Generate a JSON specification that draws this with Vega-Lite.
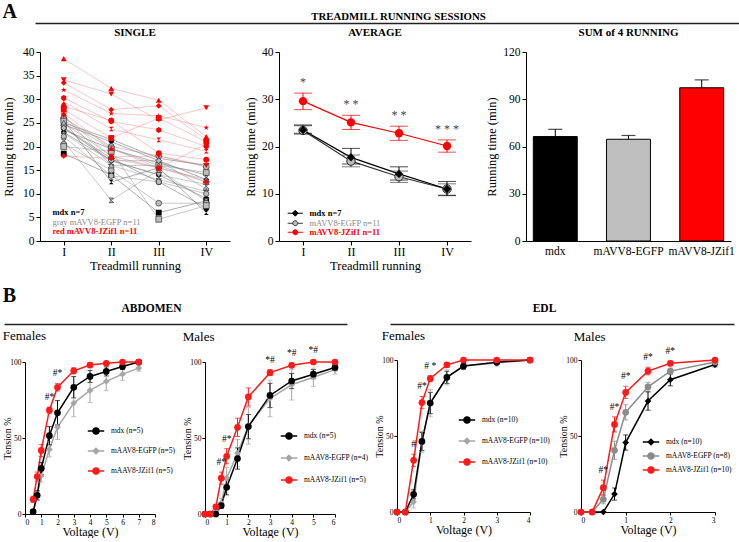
{
  "$schema": "https://vega.github.io/schema/vega-lite/v6.json",
  "padding": {"left": 1, "top": 2, "right": 0, "bottom": 0},
  "config": {
    "view": {"stroke": null},
    "font": "Liberation Serif",
    "axis": {"grid": false, "domainColor": "black", "tickColor": "black", "labelColor": "black", "titleColor": "black", "titleFontWeight": "normal", "labelFont": "Liberation Serif", "titleFont": "Liberation Serif"},
    "title": {"font": "Liberation Serif", "color": "black"},
    "legend": {"labelFont": "Liberation Serif"}
  },
  "datasets": {
    "single": [
      {"mouse": "K1", "group": "mdx", "session": "I", "time": 25.0}, {"mouse": "K1", "group": "mdx", "session": "II", "time": 21.5}, {"mouse": "K1", "group": "mdx", "session": "III", "time": 17.5}, {"mouse": "K1", "group": "mdx", "session": "IV", "time": 16.0},
      {"mouse": "K2", "group": "mdx", "session": "I", "time": 24.6}, {"mouse": "K2", "group": "mdx", "session": "II", "time": 21.0}, {"mouse": "K2", "group": "mdx", "session": "III", "time": 17.0}, {"mouse": "K2", "group": "mdx", "session": "IV", "time": 13.0},
      {"mouse": "K3", "group": "mdx", "session": "I", "time": 23.5}, {"mouse": "K3", "group": "mdx", "session": "II", "time": 19.5}, {"mouse": "K3", "group": "mdx", "session": "III", "time": 16.5}, {"mouse": "K3", "group": "mdx", "session": "IV", "time": 14.0},
      {"mouse": "K4", "group": "mdx", "session": "I", "time": 23.0}, {"mouse": "K4", "group": "mdx", "session": "II", "time": 17.0}, {"mouse": "K4", "group": "mdx", "session": "III", "time": 14.0}, {"mouse": "K4", "group": "mdx", "session": "IV", "time": 9.0},
      {"mouse": "K5", "group": "mdx", "session": "I", "time": 25.5}, {"mouse": "K5", "group": "mdx", "session": "II", "time": 12.5}, {"mouse": "K5", "group": "mdx", "session": "III", "time": 15.5}, {"mouse": "K5", "group": "mdx", "session": "IV", "time": 6.0},
      {"mouse": "K6", "group": "mdx", "session": "I", "time": 24.0}, {"mouse": "K6", "group": "mdx", "session": "II", "time": 17.5}, {"mouse": "K6", "group": "mdx", "session": "III", "time": 12.5}, {"mouse": "K6", "group": "mdx", "session": "IV", "time": 7.0},
      {"mouse": "K7", "group": "mdx", "session": "I", "time": 18.5}, {"mouse": "K7", "group": "mdx", "session": "II", "time": 14.0}, {"mouse": "K7", "group": "mdx", "session": "III", "time": 6.0}, {"mouse": "K7", "group": "mdx", "session": "IV", "time": 8.5},
      {"mouse": "G01", "group": "mAVV8-EGFP", "session": "I", "time": 26.0}, {"mouse": "G01", "group": "mAVV8-EGFP", "session": "II", "time": 20.0}, {"mouse": "G01", "group": "mAVV8-EGFP", "session": "III", "time": 18.0}, {"mouse": "G01", "group": "mAVV8-EGFP", "session": "IV", "time": 15.7},
      {"mouse": "G02", "group": "mAVV8-EGFP", "session": "I", "time": 25.5}, {"mouse": "G02", "group": "mAVV8-EGFP", "session": "II", "time": 19.5}, {"mouse": "G02", "group": "mAVV8-EGFP", "session": "III", "time": 16.0}, {"mouse": "G02", "group": "mAVV8-EGFP", "session": "IV", "time": 14.5},
      {"mouse": "G03", "group": "mAVV8-EGFP", "session": "I", "time": 25.0}, {"mouse": "G03", "group": "mAVV8-EGFP", "session": "II", "time": 18.0}, {"mouse": "G03", "group": "mAVV8-EGFP", "session": "III", "time": 15.5}, {"mouse": "G03", "group": "mAVV8-EGFP", "session": "IV", "time": 13.0},
      {"mouse": "G04", "group": "mAVV8-EGFP", "session": "I", "time": 24.0}, {"mouse": "G04", "group": "mAVV8-EGFP", "session": "II", "time": 17.0}, {"mouse": "G04", "group": "mAVV8-EGFP", "session": "III", "time": 14.0}, {"mouse": "G04", "group": "mAVV8-EGFP", "session": "IV", "time": 12.0},
      {"mouse": "G05", "group": "mAVV8-EGFP", "session": "I", "time": 23.9}, {"mouse": "G05", "group": "mAVV8-EGFP", "session": "II", "time": 17.0}, {"mouse": "G05", "group": "mAVV8-EGFP", "session": "III", "time": 17.0}, {"mouse": "G05", "group": "mAVV8-EGFP", "session": "IV", "time": 11.0},
      {"mouse": "G06", "group": "mAVV8-EGFP", "session": "I", "time": 22.8}, {"mouse": "G06", "group": "mAVV8-EGFP", "session": "II", "time": 16.0}, {"mouse": "G06", "group": "mAVV8-EGFP", "session": "III", "time": 13.0}, {"mouse": "G06", "group": "mAVV8-EGFP", "session": "IV", "time": 10.5},
      {"mouse": "G07", "group": "mAVV8-EGFP", "session": "I", "time": 22.1}, {"mouse": "G07", "group": "mAVV8-EGFP", "session": "II", "time": 13.8}, {"mouse": "G07", "group": "mAVV8-EGFP", "session": "III", "time": 12.5}, {"mouse": "G07", "group": "mAVV8-EGFP", "session": "IV", "time": 10.0},
      {"mouse": "G08", "group": "mAVV8-EGFP", "session": "I", "time": 21.1}, {"mouse": "G08", "group": "mAVV8-EGFP", "session": "II", "time": 8.6}, {"mouse": "G08", "group": "mAVV8-EGFP", "session": "III", "time": 15.0}, {"mouse": "G08", "group": "mAVV8-EGFP", "session": "IV", "time": 8.5},
      {"mouse": "G09", "group": "mAVV8-EGFP", "session": "I", "time": 20.5}, {"mouse": "G09", "group": "mAVV8-EGFP", "session": "II", "time": 15.0}, {"mouse": "G09", "group": "mAVV8-EGFP", "session": "III", "time": 8.0}, {"mouse": "G09", "group": "mAVV8-EGFP", "session": "IV", "time": 8.0},
      {"mouse": "G10", "group": "mAVV8-EGFP", "session": "I", "time": 20.0}, {"mouse": "G10", "group": "mAVV8-EGFP", "session": "II", "time": 19.0}, {"mouse": "G10", "group": "mAVV8-EGFP", "session": "III", "time": 4.6}, {"mouse": "G10", "group": "mAVV8-EGFP", "session": "IV", "time": 7.5},
      {"mouse": "G11", "group": "mAVV8-EGFP", "session": "I", "time": 26.5}, {"mouse": "G11", "group": "mAVV8-EGFP", "session": "II", "time": 16.0}, {"mouse": "G11", "group": "mAVV8-EGFP", "session": "III", "time": 16.0}, {"mouse": "G11", "group": "mAVV8-EGFP", "session": "IV", "time": 12.5},
      {"mouse": "R01", "group": "mAVV8-JZif1", "session": "I", "time": 38.6}, {"mouse": "R01", "group": "mAVV8-JZif1", "session": "II", "time": 32.3}, {"mouse": "R01", "group": "mAVV8-JZif1", "session": "III", "time": 29.8}, {"mouse": "R01", "group": "mAVV8-JZif1", "session": "IV", "time": 22.1},
      {"mouse": "R02", "group": "mAVV8-JZif1", "session": "I", "time": 34.1}, {"mouse": "R02", "group": "mAVV8-JZif1", "session": "II", "time": 31.1}, {"mouse": "R02", "group": "mAVV8-JZif1", "session": "III", "time": 25.6}, {"mouse": "R02", "group": "mAVV8-JZif1", "session": "IV", "time": 28.2},
      {"mouse": "R03", "group": "mAVV8-JZif1", "session": "I", "time": 33.5}, {"mouse": "R03", "group": "mAVV8-JZif1", "session": "II", "time": 27.8}, {"mouse": "R03", "group": "mAVV8-JZif1", "session": "III", "time": 28.6}, {"mouse": "R03", "group": "mAVV8-JZif1", "session": "IV", "time": 21.4},
      {"mouse": "R04", "group": "mAVV8-JZif1", "session": "I", "time": 32.0}, {"mouse": "R04", "group": "mAVV8-JZif1", "session": "II", "time": 27.0}, {"mouse": "R04", "group": "mAVV8-JZif1", "session": "III", "time": 26.5}, {"mouse": "R04", "group": "mAVV8-JZif1", "session": "IV", "time": 24.0},
      {"mouse": "R05", "group": "mAVV8-JZif1", "session": "I", "time": 30.3}, {"mouse": "R05", "group": "mAVV8-JZif1", "session": "II", "time": 25.3}, {"mouse": "R05", "group": "mAVV8-JZif1", "session": "III", "time": 23.5}, {"mouse": "R05", "group": "mAVV8-JZif1", "session": "IV", "time": 20.0},
      {"mouse": "R06", "group": "mAVV8-JZif1", "session": "I", "time": 29.5}, {"mouse": "R06", "group": "mAVV8-JZif1", "session": "II", "time": 23.7}, {"mouse": "R06", "group": "mAVV8-JZif1", "session": "III", "time": 21.4}, {"mouse": "R06", "group": "mAVV8-JZif1", "session": "IV", "time": 19.0},
      {"mouse": "R07", "group": "mAVV8-JZif1", "session": "I", "time": 28.5}, {"mouse": "R07", "group": "mAVV8-JZif1", "session": "II", "time": 25.5}, {"mouse": "R07", "group": "mAVV8-JZif1", "session": "III", "time": 18.6}, {"mouse": "R07", "group": "mAVV8-JZif1", "session": "IV", "time": 17.2},
      {"mouse": "R08", "group": "mAVV8-JZif1", "session": "I", "time": 27.8}, {"mouse": "R08", "group": "mAVV8-JZif1", "session": "II", "time": 21.8}, {"mouse": "R08", "group": "mAVV8-JZif1", "session": "III", "time": 26.0}, {"mouse": "R08", "group": "mAVV8-JZif1", "session": "IV", "time": 21.0},
      {"mouse": "R09", "group": "mAVV8-JZif1", "session": "I", "time": 27.0}, {"mouse": "R09", "group": "mAVV8-JZif1", "session": "II", "time": 19.6}, {"mouse": "R09", "group": "mAVV8-JZif1", "session": "III", "time": 15.4}, {"mouse": "R09", "group": "mAVV8-JZif1", "session": "IV", "time": 20.5},
      {"mouse": "R10", "group": "mAVV8-JZif1", "session": "I", "time": 26.5}, {"mouse": "R10", "group": "mAVV8-JZif1", "session": "II", "time": 17.8}, {"mouse": "R10", "group": "mAVV8-JZif1", "session": "III", "time": 18.0}, {"mouse": "R10", "group": "mAVV8-JZif1", "session": "IV", "time": 16.0},
      {"mouse": "R11", "group": "mAVV8-JZif1", "session": "I", "time": 18.0}, {"mouse": "R11", "group": "mAVV8-JZif1", "session": "II", "time": 17.5}, {"mouse": "R11", "group": "mAVV8-JZif1", "session": "III", "time": 15.5}, {"mouse": "R11", "group": "mAVV8-JZif1", "session": "IV", "time": 12.5}
    ],
    "avg": [
      {"group": "mAVV8-EGFP", "session": "I", "mean": 23.4, "lo": 22.6, "hi": 24.6},
      {"group": "mAVV8-EGFP", "session": "II", "mean": 16.9, "lo": 15.7, "hi": 18.2},
      {"group": "mAVV8-EGFP", "session": "III", "mean": 13.6, "lo": 12.4, "hi": 14.8},
      {"group": "mAVV8-EGFP", "session": "IV", "mean": 11.0, "lo": 9.7, "hi": 12.1},
      {"group": "mdx", "session": "I", "mean": 23.5, "lo": 22.8, "hi": 24.4},
      {"group": "mdx", "session": "II", "mean": 17.7, "lo": 16.3, "hi": 19.6},
      {"group": "mdx", "session": "III", "mean": 14.2, "lo": 12.9, "hi": 15.7},
      {"group": "mdx", "session": "IV", "mean": 11.0, "lo": 9.6, "hi": 12.6},
      {"group": "mAVV8-JZif1", "session": "I", "mean": 29.6, "lo": 27.8, "hi": 31.3, "sig": "*"},
      {"group": "mAVV8-JZif1", "session": "II", "mean": 25.1, "lo": 23.6, "hi": 26.6, "sig": "* *"},
      {"group": "mAVV8-JZif1", "session": "III", "mean": 22.8, "lo": 21.3, "hi": 24.3, "sig": "* *"},
      {"group": "mAVV8-JZif1", "session": "IV", "mean": 20.1, "lo": 18.8, "hi": 21.4, "sig": "* * *"}
    ],
    "sum": [
      {"group": "mdx", "mean": 66.3, "hi": 70.9},
      {"group": "mAVV8-EGFP", "mean": 64.6, "hi": 67.0},
      {"group": "mAVV8-JZif1", "mean": 97.3, "hi": 102.3}
    ],
    "tension": [
      {"panel": "AbdF", "group": "mAAV8-EGFP", "v": 0.5, "mean": 1, "lo": 0, "hi": 2},
      {"panel": "AbdF", "group": "mAAV8-EGFP", "v": 0.75, "mean": 12, "lo": 9, "hi": 15},
      {"panel": "AbdF", "group": "mAAV8-EGFP", "v": 1, "mean": 25, "lo": 21, "hi": 29},
      {"panel": "AbdF", "group": "mAAV8-EGFP", "v": 1.5, "mean": 42.5, "lo": 37.5, "hi": 47.5},
      {"panel": "AbdF", "group": "mAAV8-EGFP", "v": 2, "mean": 57, "lo": 49, "hi": 65},
      {"panel": "AbdF", "group": "mAAV8-EGFP", "v": 3, "mean": 73, "lo": 64, "hi": 82},
      {"panel": "AbdF", "group": "mAAV8-EGFP", "v": 4, "mean": 81.3, "lo": 73.3, "hi": 89.3},
      {"panel": "AbdF", "group": "mAAV8-EGFP", "v": 5, "mean": 87.3, "lo": 81.3, "hi": 93.3},
      {"panel": "AbdF", "group": "mAAV8-EGFP", "v": 6, "mean": 92, "lo": 88, "hi": 96},
      {"panel": "AbdF", "group": "mAAV8-EGFP", "v": 7, "mean": 96, "lo": 94, "hi": 98},
      {"panel": "AbdF", "group": "mdx", "v": 0.5, "mean": 1.5, "lo": 0.5, "hi": 2.5},
      {"panel": "AbdF", "group": "mdx", "v": 0.75, "mean": 12.3, "lo": 9.3, "hi": 15.3},
      {"panel": "AbdF", "group": "mdx", "v": 1, "mean": 30, "lo": 26, "hi": 34},
      {"panel": "AbdF", "group": "mdx", "v": 1.5, "mean": 51.5, "lo": 45.5, "hi": 57.5},
      {"panel": "AbdF", "group": "mdx", "v": 2, "mean": 66.6, "lo": 58.6, "hi": 74.6},
      {"panel": "AbdF", "group": "mdx", "v": 3, "mean": 83.4, "lo": 76.4, "hi": 90.4},
      {"panel": "AbdF", "group": "mdx", "v": 4, "mean": 90.5, "lo": 86.5, "hi": 94.5},
      {"panel": "AbdF", "group": "mdx", "v": 5, "mean": 93.8, "lo": 90.8, "hi": 96.8},
      {"panel": "AbdF", "group": "mdx", "v": 6, "mean": 97, "lo": 95, "hi": 99},
      {"panel": "AbdF", "group": "mdx", "v": 7, "mean": 100, "lo": 99.5, "hi": 100.5},
      {"panel": "AbdF", "group": "mAAV8-JZif1", "v": 0.5, "mean": 9.7, "lo": 7.7, "hi": 11.7},
      {"panel": "AbdF", "group": "mAAV8-JZif1", "v": 0.75, "mean": 24.6, "lo": 21.6, "hi": 27.6},
      {"panel": "AbdF", "group": "mAAV8-JZif1", "v": 1, "mean": 41.8, "lo": 37.8, "hi": 45.8},
      {"panel": "AbdF", "group": "mAAV8-JZif1", "v": 1.5, "mean": 68.3, "lo": 66.3, "hi": 70.3, "sig": "#*"},
      {"panel": "AbdF", "group": "mAAV8-JZif1", "v": 2, "mean": 83.4, "lo": 80.9, "hi": 85.9, "sig": "#*"},
      {"panel": "AbdF", "group": "mAAV8-JZif1", "v": 3, "mean": 94.2, "lo": 92.2, "hi": 96.2},
      {"panel": "AbdF", "group": "mAAV8-JZif1", "v": 4, "mean": 98, "lo": 96.5, "hi": 99.5},
      {"panel": "AbdF", "group": "mAAV8-JZif1", "v": 5, "mean": 99.1, "lo": 98.1, "hi": 100.1},
      {"panel": "AbdF", "group": "mAAV8-JZif1", "v": 6, "mean": 100, "lo": 99, "hi": 101},
      {"panel": "AbdF", "group": "mAAV8-JZif1", "v": 7, "mean": 100, "lo": 99.5, "hi": 100.5},
      {"panel": "AbdM", "group": "mAAV8-EGFP", "v": 0, "mean": 0, "lo": 0, "hi": 0},
      {"panel": "AbdM", "group": "mAAV8-EGFP", "v": 0.25, "mean": 0, "lo": 0, "hi": 0},
      {"panel": "AbdM", "group": "mAAV8-EGFP", "v": 0.5, "mean": 2.5, "lo": 1.5, "hi": 3.5},
      {"panel": "AbdM", "group": "mAAV8-EGFP", "v": 0.75, "mean": 7.3, "lo": 4.3, "hi": 10.3},
      {"panel": "AbdM", "group": "mAAV8-EGFP", "v": 1, "mean": 23.6, "lo": 16.6, "hi": 30.6},
      {"panel": "AbdM", "group": "mAAV8-EGFP", "v": 1.5, "mean": 40, "lo": 31, "hi": 49},
      {"panel": "AbdM", "group": "mAAV8-EGFP", "v": 2, "mean": 58, "lo": 46, "hi": 70},
      {"panel": "AbdM", "group": "mAAV8-EGFP", "v": 3, "mean": 76, "lo": 64, "hi": 88},
      {"panel": "AbdM", "group": "mAAV8-EGFP", "v": 4, "mean": 85, "lo": 75, "hi": 95},
      {"panel": "AbdM", "group": "mAAV8-EGFP", "v": 5, "mean": 90, "lo": 84, "hi": 96},
      {"panel": "AbdM", "group": "mAAV8-EGFP", "v": 6, "mean": 95, "lo": 92, "hi": 98},
      {"panel": "AbdM", "group": "mdx", "v": 0, "mean": 0, "lo": 0, "hi": 0},
      {"panel": "AbdM", "group": "mdx", "v": 0.25, "mean": 0, "lo": 0, "hi": 0},
      {"panel": "AbdM", "group": "mdx", "v": 0.5, "mean": 0, "lo": 0, "hi": 0},
      {"panel": "AbdM", "group": "mdx", "v": 0.75, "mean": 5.6, "lo": 3.6, "hi": 7.6},
      {"panel": "AbdM", "group": "mdx", "v": 1, "mean": 17.6, "lo": 12.6, "hi": 22.6},
      {"panel": "AbdM", "group": "mdx", "v": 1.5, "mean": 36.5, "lo": 29.5, "hi": 43.5},
      {"panel": "AbdM", "group": "mdx", "v": 2, "mean": 57.5, "lo": 49.5, "hi": 65.5},
      {"panel": "AbdM", "group": "mdx", "v": 3, "mean": 78, "lo": 70, "hi": 86},
      {"panel": "AbdM", "group": "mdx", "v": 4, "mean": 87.5, "lo": 82.5, "hi": 92.5},
      {"panel": "AbdM", "group": "mdx", "v": 5, "mean": 92, "lo": 89, "hi": 95},
      {"panel": "AbdM", "group": "mdx", "v": 6, "mean": 96.4, "lo": 94.4, "hi": 98.4},
      {"panel": "AbdM", "group": "mAAV8-JZif1", "v": 0, "mean": 0, "lo": 0, "hi": 0},
      {"panel": "AbdM", "group": "mAAV8-JZif1", "v": 0.25, "mean": 0, "lo": 0, "hi": 0},
      {"panel": "AbdM", "group": "mAAV8-JZif1", "v": 0.5, "mean": 4.7, "lo": 3.7, "hi": 5.7},
      {"panel": "AbdM", "group": "mAAV8-JZif1", "v": 0.75, "mean": 23.6, "lo": 19.6, "hi": 27.6, "sig": "#*"},
      {"panel": "AbdM", "group": "mAAV8-JZif1", "v": 1, "mean": 38, "lo": 33, "hi": 43, "sig": "#*"},
      {"panel": "AbdM", "group": "mAAV8-JZif1", "v": 1.5, "mean": 57, "lo": 51, "hi": 63},
      {"panel": "AbdM", "group": "mAAV8-JZif1", "v": 2, "mean": 77, "lo": 71, "hi": 83},
      {"panel": "AbdM", "group": "mAAV8-JZif1", "v": 3, "mean": 93, "lo": 91, "hi": 95, "sig": "*#"},
      {"panel": "AbdM", "group": "mAAV8-JZif1", "v": 4, "mean": 97.8, "lo": 96.3, "hi": 99.3, "sig": "*#"},
      {"panel": "AbdM", "group": "mAAV8-JZif1", "v": 5, "mean": 100, "lo": 99, "hi": 101, "sig": "*#"},
      {"panel": "AbdM", "group": "mAAV8-JZif1", "v": 6, "mean": 100, "lo": 99.5, "hi": 100.5},
      {"panel": "EdlF", "group": "mAAV8-EGFP", "v": 0, "mean": 0, "lo": 0, "hi": 0},
      {"panel": "EdlF", "group": "mAAV8-EGFP", "v": 0.25, "mean": 0, "lo": 0, "hi": 0},
      {"panel": "EdlF", "group": "mAAV8-EGFP", "v": 0.5, "mean": 6.7, "lo": 2.7, "hi": 10.7},
      {"panel": "EdlF", "group": "mAAV8-EGFP", "v": 0.75, "mean": 46, "lo": 39, "hi": 53},
      {"panel": "EdlF", "group": "mAAV8-EGFP", "v": 1, "mean": 71.7, "lo": 62.7, "hi": 80.7},
      {"panel": "EdlF", "group": "mAAV8-EGFP", "v": 1.5, "mean": 88.6, "lo": 83.6, "hi": 93.6},
      {"panel": "EdlF", "group": "mAAV8-EGFP", "v": 2, "mean": 96, "lo": 94, "hi": 98},
      {"panel": "EdlF", "group": "mAAV8-EGFP", "v": 3, "mean": 98, "lo": 96, "hi": 100},
      {"panel": "EdlF", "group": "mAAV8-EGFP", "v": 4, "mean": 100, "lo": 99.5, "hi": 100.5},
      {"panel": "EdlF", "group": "mdx", "v": 0, "mean": 0, "lo": 0, "hi": 0},
      {"panel": "EdlF", "group": "mdx", "v": 0.25, "mean": 0, "lo": 0, "hi": 0},
      {"panel": "EdlF", "group": "mdx", "v": 0.5, "mean": 11.6, "lo": 8.6, "hi": 14.6},
      {"panel": "EdlF", "group": "mdx", "v": 0.75, "mean": 46.4, "lo": 40.4, "hi": 52.4},
      {"panel": "EdlF", "group": "mdx", "v": 1, "mean": 71.7, "lo": 64.7, "hi": 78.7},
      {"panel": "EdlF", "group": "mdx", "v": 1.5, "mean": 88.6, "lo": 84.6, "hi": 92.6},
      {"panel": "EdlF", "group": "mdx", "v": 2, "mean": 96, "lo": 94, "hi": 98},
      {"panel": "EdlF", "group": "mdx", "v": 3, "mean": 98.5, "lo": 97, "hi": 100},
      {"panel": "EdlF", "group": "mdx", "v": 4, "mean": 100, "lo": 99.5, "hi": 100.5},
      {"panel": "EdlF", "group": "mAAV8-JZif1", "v": 0, "mean": 0, "lo": 0, "hi": 0},
      {"panel": "EdlF", "group": "mAAV8-JZif1", "v": 0.25, "mean": 0, "lo": 0, "hi": 0},
      {"panel": "EdlF", "group": "mAAV8-JZif1", "v": 0.5, "mean": 34, "lo": 30, "hi": 38, "sig": "#"},
      {"panel": "EdlF", "group": "mAAV8-JZif1", "v": 0.75, "mean": 72, "lo": 68, "hi": 76, "sig": "#*"},
      {"panel": "EdlF", "group": "mAAV8-JZif1", "v": 1, "mean": 87.8, "lo": 85.8, "hi": 89.8, "sig": "#   *"},
      {"panel": "EdlF", "group": "mAAV8-JZif1", "v": 1.5, "mean": 96.8, "lo": 95.3, "hi": 98.3},
      {"panel": "EdlF", "group": "mAAV8-JZif1", "v": 2, "mean": 100, "lo": 99.5, "hi": 100.5},
      {"panel": "EdlF", "group": "mAAV8-JZif1", "v": 3, "mean": 100, "lo": 99.5, "hi": 100.5},
      {"panel": "EdlF", "group": "mAAV8-JZif1", "v": 4, "mean": 100, "lo": 99.5, "hi": 100.5},
      {"panel": "EdlM", "group": "mdx", "v": 0, "mean": 0, "lo": 0, "hi": 0},
      {"panel": "EdlM", "group": "mdx", "v": 0.25, "mean": 0, "lo": 0, "hi": 0},
      {"panel": "EdlM", "group": "mdx", "v": 0.5, "mean": 0, "lo": 0, "hi": 0},
      {"panel": "EdlM", "group": "mdx", "v": 0.75, "mean": 11.8, "lo": 7.8, "hi": 15.8},
      {"panel": "EdlM", "group": "mdx", "v": 1, "mean": 45.7, "lo": 40.7, "hi": 50.7},
      {"panel": "EdlM", "group": "mdx", "v": 1.5, "mean": 73, "lo": 67, "hi": 79},
      {"panel": "EdlM", "group": "mdx", "v": 2, "mean": 87, "lo": 83, "hi": 91},
      {"panel": "EdlM", "group": "mdx", "v": 3, "mean": 97, "lo": 95.5, "hi": 98.5},
      {"panel": "EdlM", "group": "mAAV8-EGFP", "v": 0, "mean": 0, "lo": 0, "hi": 0},
      {"panel": "EdlM", "group": "mAAV8-EGFP", "v": 0.25, "mean": 0, "lo": 0, "hi": 0},
      {"panel": "EdlM", "group": "mAAV8-EGFP", "v": 0.5, "mean": 8.4, "lo": 5.4, "hi": 11.4},
      {"panel": "EdlM", "group": "mAAV8-EGFP", "v": 0.75, "mean": 40.6, "lo": 34.6, "hi": 46.6},
      {"panel": "EdlM", "group": "mAAV8-EGFP", "v": 1, "mean": 65.6, "lo": 60.6, "hi": 70.6},
      {"panel": "EdlM", "group": "mAAV8-EGFP", "v": 1.5, "mean": 82.3, "lo": 79.3, "hi": 85.3},
      {"panel": "EdlM", "group": "mAAV8-EGFP", "v": 2, "mean": 92.7, "lo": 90.7, "hi": 94.7},
      {"panel": "EdlM", "group": "mAAV8-EGFP", "v": 3, "mean": 98.7, "lo": 97.7, "hi": 99.7},
      {"panel": "EdlM", "group": "mAAV8-JZif1", "v": 0, "mean": 0, "lo": 0, "hi": 0},
      {"panel": "EdlM", "group": "mAAV8-JZif1", "v": 0.25, "mean": 0, "lo": 0, "hi": 0},
      {"panel": "EdlM", "group": "mAAV8-JZif1", "v": 0.5, "mean": 16, "lo": 11, "hi": 21, "sig": "#*"},
      {"panel": "EdlM", "group": "mAAV8-JZif1", "v": 0.75, "mean": 57.6, "lo": 52.6, "hi": 62.6, "sig": "#*"},
      {"panel": "EdlM", "group": "mAAV8-JZif1", "v": 1, "mean": 78.7, "lo": 74.7, "hi": 82.7, "sig": "#*"},
      {"panel": "EdlM", "group": "mAAV8-JZif1", "v": 1.5, "mean": 92.7, "lo": 90.2, "hi": 95.2, "sig": "#*"},
      {"panel": "EdlM", "group": "mAAV8-JZif1", "v": 2, "mean": 97.8, "lo": 96.3, "hi": 99.3, "sig": "#*"},
      {"panel": "EdlM", "group": "mAAV8-JZif1", "v": 3, "mean": 100, "lo": 99, "hi": 101}
    ]
  },
  "resolve": {"scale": {"color": "independent", "fill": "independent", "stroke": "independent", "shape": "independent"}},
  "spacing": 14,
  "vconcat": [
    {
      "spacing": 0,
      "resolve": {"scale": {"color": "independent", "fill": "independent", "stroke": "independent", "shape": "independent"}},
      "hconcat": [
        {"width": 1, "height": 1, "data": {"values": []}, "mark": {"type": "point", "opacity": 0, "size": 0}, "encoding": {}},
        {
          "title": {"text": "A", "anchor": "start", "fontSize": 20, "fontWeight": "bold", "offset": -12},
          "resolve": {"scale": {"color": "independent", "fill": "independent", "stroke": "independent", "shape": "independent"}},
          "spacing": 0,
          "vconcat": [
            {
              "width": 701, "height": 1,
              "data": {"values": [{}]},
              "mark": {"type": "point", "opacity": 0},
              "encoding": {
                "x": {"datum": 0, "type": "quantitative", "scale": {"domain": [0, 1], "range": [-5, 701]},
                  "axis": {"orient": "top", "ticks": false, "labels": false, "domainWidth": 1.5, "domainColor": "#222", "title": "TREADMILL RUNNING SESSIONS", "titleFontSize": 10.8, "titleFontWeight": "bold", "titlePadding": 2, "titleX": 358, "titleAlign": "center"}}
              }
            },
            {
              "spacing": 14,
              "resolve": {"scale": {"color": "independent", "fill": "independent", "stroke": "independent", "shape": "independent"}},
              "hconcat": [
                {
                  "title": {"text": "SINGLE", "fontSize": 11, "fontWeight": "bold", "offset": 8},
                  "width": 190, "height": 189,
                  "data": {"name": "single"},
                  "encoding": {
                    "x": {"field": "session", "type": "ordinal", "sort": ["I", "II", "III", "IV"], "scale": {"type": "point", "padding": 0.5},
                      "axis": {"labelAngle": 0, "title": "Treadmill running", "labelFontSize": 12, "titleFontSize": 12.5, "titlePadding": 2, "labelPadding": 1, "tickSize": 4}},
                    "y": {"field": "time", "type": "quantitative", "scale": {"domain": [0, 40], "nice": false},
                      "axis": {"values": [0, 5, 10, 15, 20, 25, 30, 35, 40], "title": "Running time (min)", "labelFontSize": 11.5, "titleFontSize": 12.5, "tickSize": 4, "titlePadding": 7}}
                  },
                  "layer": [
                    {
                      "mark": {"type": "line", "strokeWidth": 0.6, "opacity": 0.8},
                      "encoding": {
                        "detail": {"field": "mouse"},
                        "stroke": {"field": "group", "type": "nominal", "scale": {"domain": ["mAVV8-JZif1", "mdx", "mAVV8-EGFP"], "range": ["#ee8888", "#555555", "#8c8c8c"]}, "legend": null}
                      }
                    },
                    {
                      "mark": {"type": "point", "filled": true, "size": 34, "opacity": 1, "strokeWidth": 0.7},
                      "encoding": {
                        "fill": {"field": "group", "type": "nominal", "scale": {"domain": ["mdx", "mAVV8-EGFP", "mAVV8-JZif1"], "range": ["black", "#bdbdbd", "#ff0000"]},
                          "legend": {"orient": "none", "legendX": 4, "legendY": 156, "title": null, "labelFontSize": 8.5, "symbolSize": 0, "symbolOpacity": 0, "symbolStrokeWidth": 0, "labelOffset": 0, "rowPadding": 0.5,
                            "labelExpr": "datum.label == 'mdx' ? 'mdx n=7' : datum.label == 'mAVV8-EGFP' ? 'gray mAVV8-EGFP n=11' : 'red mAVV8-JZif1 n=11'",
                            "encoding": {"labels": {
                              "fill": {"condition": [{"test": "datum.value == 'mdx'", "value": "black"}, {"test": "datum.value == 'mAVV8-JZif1'", "value": "#ff0000"}], "value": "#8a8a8a"},
                              "fontWeight": {"condition": {"test": "datum.value == 'mAVV8-EGFP'", "value": "normal"}, "value": "bold"}}}}},
                        "shape": {"field": "mouse", "type": "nominal", "legend": null,
                          "scale": {"range": ["circle", "square", "triangle-up", "triangle-down", "diamond", "M0,-1L0.225,-0.309L0.951,-0.309L0.363,0.118L0.588,0.809L0,0.382L-0.588,0.809L-0.363,0.118L-0.951,-0.309L-0.225,-0.309Z", "M0,-1L0.866,-0.5L0.866,0.5L0,1L-0.866,0.5L-0.866,-0.5Z", "M-0.8,-0.8L0.8,-0.8L0,0L0.8,0.8L-0.8,0.8L0,0Z"]}},
                        "stroke": {"condition": {"test": "datum.group == 'mAVV8-EGFP'", "value": "#333333"}, "value": "transparent"}
                      }
                    }
                  ]
                },
                {
                  "title": {"text": "AVERAGE", "fontSize": 11, "fontWeight": "bold", "offset": 8},
                  "width": 192, "height": 189,
                  "data": {"name": "avg"},
                  "encoding": {
                    "x": {"field": "session", "type": "ordinal", "sort": ["I", "II", "III", "IV"], "scale": {"type": "point", "padding": 0.5},
                      "axis": {"labelAngle": 0, "title": "Treadmill running", "labelFontSize": 12, "titleFontSize": 12.5, "titlePadding": 2, "labelPadding": 1, "tickSize": 4}}
                  },
                  "layer": [
                    {
                      "mark": {"type": "line", "strokeWidth": 1.2},
                      "encoding": {
                        "y": {"field": "mean", "type": "quantitative", "scale": {"domain": [0, 40], "nice": false}, "axis": {"values": [0, 5, 10, 15, 20, 25, 30, 35, 40], "title": "Running time (min)", "labelFontSize": 11.5, "titleFontSize": 12.5, "tickSize": 4}},
                        "stroke": {"field": "group", "type": "nominal", "scale": {"domain": ["mAVV8-JZif1", "mdx", "mAVV8-EGFP"], "range": ["#ff0000", "black", "#333333"]}, "legend": null}
                      }
                    },
                    {
                      "mark": {"type": "errorbar", "ticks": true},
                      "encoding": {
                        "y": {"field": "lo", "type": "quantitative", "title": "Running time (min)"},
                        "y2": {"field": "hi"},
                        "color": {"field": "group", "type": "nominal", "scale": {"domain": ["mAVV8-EGFP", "mAVV8-JZif1", "mdx"], "range": ["#444444", "#ff0000", "black"]}, "legend": null}
                      }
                    },
                    {
                      "mark": {"type": "point", "filled": true, "size": 70, "opacity": 1, "strokeWidth": 1},
                      "encoding": {
                        "y": {"field": "mean", "type": "quantitative"},
                        "shape": {"field": "group", "type": "nominal", "scale": {"domain": ["mdx", "mAVV8-JZif1", "mAVV8-EGFP"], "range": ["diamond", "circle", "circle"]}, "legend": null},
                        "stroke": {"condition": {"test": "datum.group == 'mAVV8-EGFP'", "value": "#222222"}, "value": "transparent"},
                        "fill": {"field": "group", "type": "nominal", "scale": {"domain": ["mdx", "mAVV8-EGFP", "mAVV8-JZif1"], "range": ["black", "#bdbdbd", "#ff0000"]},
                          "legend": {"orient": "none", "legendX": 12, "legendY": 157, "title": null, "labelFontSize": 8.5, "symbolSize": 20, "labelOffset": 10, "rowPadding": -1.5,
                            "labelExpr": "datum.label == 'mdx' ? 'mdx n=7' : datum.label == 'mAVV8-EGFP' ? 'mAVV8-EGFP n=11' : 'mAVV8-JZif1 n=11'",
                            "encoding": {
                              "labels": {
                                "fill": {"condition": [{"test": "datum.value == 'mdx'", "value": "black"}, {"test": "datum.value == 'mAVV8-JZif1'", "value": "#ff0000"}], "value": "#8a8a8a"},
                                "fontWeight": {"condition": {"test": "datum.value == 'mAVV8-EGFP'", "value": "normal"}, "value": "bold"}},
                              "symbols": {
                                "shape": {"condition": {"test": "datum.value == 'mdx'", "value": "M-3.4,0L3.4,0M-1.3,0L0,-1.3L1.3,0L0,1.3Z"}, "value": "M-3.4,0L-1.1,0M1.1,0L3.4,0M-1.1,0A1.1,1.1,0,1,0,1.1,0A1.1,1.1,0,1,0,-1.1,0Z"},
                                "stroke": {"condition": [{"test": "datum.value == 'mdx'", "value": "black"}, {"test": "datum.value == 'mAVV8-JZif1'", "value": "#ff0000"}], "value": "#333333"},
                                "strokeWidth": {"value": 1}}
                            }}}
                      }
                    },
                    {
                      "transform": [{"filter": "datum.sig"}],
                      "mark": {"type": "text", "baseline": "bottom", "dy": -4, "fontSize": 12, "color": "#444444", "font": "Liberation Serif"},
                      "encoding": {"y": {"field": "hi", "type": "quantitative"}, "text": {"field": "sig"}}
                    }
                  ]
                },
                {
                  "title": {"text": "SUM of 4 RUNNING", "fontSize": 11, "fontWeight": "bold", "offset": 8},
                  "width": 205, "height": 189,
                  "data": {"name": "sum"},
                  "encoding": {
                    "x": {"field": "group", "type": "nominal", "sort": null, "scale": {"paddingInner": 0.4, "paddingOuter": 0.1},
                      "axis": {"title": null, "labelAngle": 0, "labelFontSize": 11.5, "ticks": false, "labelPadding": 4}}
                  },
                  "layer": [
                    {
                      "mark": {"type": "bar", "stroke": "black", "strokeWidth": 1},
                      "encoding": {
                        "y": {"field": "mean", "type": "quantitative", "scale": {"domain": [0, 120], "nice": false}, "axis": {"values": [0, 15, 30, 45, 60, 75, 90, 105, 120], "title": "Running time (min)", "labelFontSize": 11.5, "titleFontSize": 12.5, "tickSize": 4}},
                        "fill": {"field": "group", "type": "nominal", "scale": {"domain": ["mdx", "mAVV8-EGFP", "mAVV8-JZif1"], "range": ["black", "#bfbfbf", "#ff0000"]}, "legend": null}
                      }
                    },
                    {
                      "mark": {"type": "rule", "color": "black", "strokeWidth": 1},
                      "encoding": {"y": {"field": "mean", "type": "quantitative"}, "y2": {"field": "hi"}}
                    },
                    {
                      "mark": {"type": "tick", "color": "black", "size": 14, "thickness": 1.2},
                      "encoding": {"y": {"field": "hi", "type": "quantitative"}}
                    }
                  ]
                }
              ]
            }
          ]
        }
      ]
    },
    {
      "spacing": 0,
      "resolve": {"scale": {"color": "independent", "fill": "independent", "stroke": "independent", "shape": "independent"}},
      "hconcat": [
        {"width": 1, "height": 1, "data": {"values": []}, "mark": {"type": "point", "opacity": 0, "size": 0}, "encoding": {}},
        {
          "title": {"text": "B", "anchor": "start", "fontSize": 20, "fontWeight": "bold", "offset": -4},
          "resolve": {"scale": {"color": "independent", "fill": "independent", "stroke": "independent", "shape": "independent"}},
          "spacing": 3,
          "hconcat": [
            {
              "spacing": 5,
              "resolve": {"scale": {"color": "independent", "fill": "independent", "stroke": "independent", "shape": "independent"}},
              "vconcat": [
                {
                  "width": 322, "height": 1,
                  "data": {"values": [{}]},
                  "mark": {"type": "point", "opacity": 0, "size": 0},
                  "encoding": {
                    "x": {"datum": 0, "type": "quantitative", "scale": {"domain": [0, 1], "range": [-21, 322]},
                      "axis": {"orient": "top", "ticks": false, "labels": false, "domainWidth": 1.5, "domainColor": "#222", "title": "ABDOMEN", "titleFontSize": 11.5, "titleFontWeight": "bold", "titlePadding": 11, "titleX": 126, "titleAlign": "center"}}
                  }
                },
                {
                  "spacing": 4,
                  "resolve": {"scale": {"color": "independent", "fill": "independent", "stroke": "independent", "shape": "independent"}},
                  "hconcat": [
                    {
                      "title": {"text": "Females", "anchor": "start", "fontSize": 13, "fontWeight": "normal", "offset": 15},
                      "width": 130, "height": 152,
                      "data": {"name": "tension"},
                      "transform": [{"filter": "datum.panel == 'AbdF'"}],
                      "encoding": {
                        "x": {"field": "v", "type": "quantitative", "scale": {"domain": [0, 8], "nice": false}, "axis": {"values": [0, 1, 2, 3, 4, 5, 6, 7, 8], "title": "Voltage (V)", "titleFontSize": 12, "labelFontSize": 7.5, "tickSize": 3, "titlePadding": 1, "labelPadding": 1}}
                      },
                      "layer": [
                        {"mark": {"type": "line", "strokeWidth": 1.5},
                          "encoding": {
                            "y": {"field": "mean", "type": "quantitative", "scale": {"domain": [0, 100], "nice": false}, "axis": {"values": [0, 25, 50, 75, 100], "title": "Tension %", "titleFontSize": 10, "labelFontSize": 7.5, "tickSize": 3, "titlePadding": -3, "labelPadding": 1}},
                            "stroke": {"field": "group", "type": "nominal", "scale": {"domain": ["mAAV8-JZif1", "mdx", "mAAV8-EGFP"], "range": ["#ff1a1a", "black", "#a6a6a6"]}, "legend": null}}},
                        {"mark": {"type": "errorbar", "ticks": true},
                          "encoding": {"y": {"field": "lo", "type": "quantitative", "title": "Tension %"}, "y2": {"field": "hi"},
                            "color": {"field": "group", "type": "nominal", "scale": {"domain": ["mAAV8-EGFP", "mAAV8-JZif1", "mdx"], "range": ["#a6a6a6", "#ff1a1a", "black"]}, "legend": null}}},
                        {"mark": {"type": "point", "filled": true, "size": 45, "opacity": 1},
                          "encoding": {
                            "y": {"field": "mean", "type": "quantitative"},
                            "shape": {"field": "group", "type": "nominal", "scale": {"domain": ["mdx", "mAAV8-JZif1", "mAAV8-EGFP"], "range": ["circle", "circle", "diamond"]}, "legend": null},
                            "fill": {"field": "group", "type": "nominal", "scale": {"domain": ["mdx", "mAAV8-EGFP", "mAAV8-JZif1"], "range": ["black", "#a6a6a6", "#ff1a1a"]},
                              "legend": {"orient": "none", "legendX": 67, "legendY": 65, "title": null, "labelFontSize": 7.5, "symbolSize": 40, "labelOffset": 11, "rowPadding": 8,
                                "labelExpr": "datum.label + '  (n=5)'",
                                "encoding": {"symbols": {
                                  "shape": {"condition": {"test": "datum.value == 'mAAV8-EGFP'", "value": "M-2.6,0L-0.9,0M0.9,0L2.6,0M-0.9,0L0,-0.9L0.9,0L0,0.9Z"}, "value": "M-2.6,0L-1,0M1,0L2.6,0M-1,0A1,1,0,1,0,1,0A1,1,0,1,0,-1,0Z"},
                                  "stroke": {"condition": [{"test": "datum.value == 'mdx'", "value": "black"}, {"test": "datum.value == 'mAAV8-JZif1'", "value": "#ff1a1a"}], "value": "#a6a6a6"},
                                  "strokeWidth": {"value": 1.3}}}}}}},
                        {"transform": [{"filter": "datum.sig"}],
                          "mark": {"type": "text", "baseline": "bottom", "dy": -5, "fontSize": 9.5, "font": "Liberation Serif", "color": "black"},
                          "encoding": {"y": {"field": "hi", "type": "quantitative"}, "text": {"field": "sig"}}}
                      ]
                    },
                    {
                      "title": {"text": "Males", "anchor": "start", "fontSize": 13, "fontWeight": "normal", "offset": 1},
                      "width": 130, "height": 152,
                      "data": {"name": "tension"},
                      "transform": [{"filter": "datum.panel == 'AbdM'"}],
                      "encoding": {
                        "x": {"field": "v", "type": "quantitative", "scale": {"domain": [0, 6], "nice": false}, "axis": {"values": [0, 1, 2, 3, 4, 5, 6], "title": "Voltage (V)", "titleFontSize": 12, "labelFontSize": 7.5, "tickSize": 3, "titlePadding": 1, "labelPadding": 1}}
                      },
                      "layer": [
                        {"mark": {"type": "line", "strokeWidth": 1.5},
                          "encoding": {
                            "y": {"field": "mean", "type": "quantitative", "scale": {"domain": [0, 100], "nice": false}, "axis": {"values": [0, 25, 50, 75, 100], "title": "Tension %", "titleFontSize": 10, "labelFontSize": 7.5, "tickSize": 3, "titlePadding": -3, "labelPadding": 1}},
                            "stroke": {"field": "group", "type": "nominal", "scale": {"domain": ["mAAV8-JZif1", "mdx", "mAAV8-EGFP"], "range": ["#ff1a1a", "black", "#a6a6a6"]}, "legend": null}}},
                        {"mark": {"type": "errorbar", "ticks": true},
                          "encoding": {"y": {"field": "lo", "type": "quantitative", "title": "Tension %"}, "y2": {"field": "hi"},
                            "color": {"field": "group", "type": "nominal", "scale": {"domain": ["mAAV8-EGFP", "mAAV8-JZif1", "mdx"], "range": ["#a6a6a6", "#ff1a1a", "black"]}, "legend": null}}},
                        {"mark": {"type": "point", "filled": true, "size": 45, "opacity": 1},
                          "encoding": {
                            "y": {"field": "mean", "type": "quantitative"},
                            "shape": {"field": "group", "type": "nominal", "scale": {"domain": ["mdx", "mAAV8-JZif1", "mAAV8-EGFP"], "range": ["circle", "circle", "diamond"]}, "legend": null},
                            "fill": {"field": "group", "type": "nominal", "scale": {"domain": ["mdx", "mAAV8-EGFP", "mAAV8-JZif1"], "range": ["black", "#a6a6a6", "#ff1a1a"]},
                              "legend": {"orient": "none", "legendX": 80, "legendY": 70, "title": null, "labelFontSize": 7.5, "symbolSize": 40, "labelOffset": 11, "rowPadding": 10,
                                "labelExpr": "datum.label + (datum.label == 'mAAV8-EGFP' ? '  (n=4)' : '  (n=5)')",
                                "encoding": {"symbols": {
                                  "shape": {"condition": {"test": "datum.value == 'mAAV8-EGFP'", "value": "M-2.6,0L-0.9,0M0.9,0L2.6,0M-0.9,0L0,-0.9L0.9,0L0,0.9Z"}, "value": "M-2.6,0L-1,0M1,0L2.6,0M-1,0A1,1,0,1,0,1,0A1,1,0,1,0,-1,0Z"},
                                  "stroke": {"condition": [{"test": "datum.value == 'mdx'", "value": "black"}, {"test": "datum.value == 'mAAV8-JZif1'", "value": "#ff1a1a"}], "value": "#a6a6a6"},
                                  "strokeWidth": {"value": 1.3}}}}}}},
                        {"transform": [{"filter": "datum.sig"}],
                          "mark": {"type": "text", "baseline": "bottom", "dy": -5, "fontSize": 9.5, "font": "Liberation Serif", "color": "black"},
                          "encoding": {"y": {"field": "hi", "type": "quantitative"}, "text": {"field": "sig"}}}
                      ]
                    }
                  ]
                }
              ]
            },
            {
              "spacing": 5,
              "resolve": {"scale": {"color": "independent", "fill": "independent", "stroke": "independent", "shape": "independent"}},
              "vconcat": [
                {
                  "width": 337, "height": 1,
                  "data": {"values": [{}]},
                  "mark": {"type": "point", "opacity": 0, "size": 0},
                  "encoding": {
                    "x": {"datum": 0, "type": "quantitative", "scale": {"domain": [0, 1], "range": [-7, 337]},
                      "axis": {"orient": "top", "ticks": false, "labels": false, "domainWidth": 1.5, "domainColor": "#222", "title": "EDL", "titleFontSize": 11.5, "titleFontWeight": "bold", "titlePadding": 11, "titleX": 147, "titleAlign": "center"}}
                  }
                },
                {
                  "spacing": 6,
                  "resolve": {"scale": {"color": "independent", "fill": "independent", "stroke": "independent", "shape": "independent"}},
                  "hconcat": [
                    {
                      "title": {"text": "Females", "anchor": "start", "fontSize": 13, "fontWeight": "normal", "offset": 13, "dx": 7},
                      "width": 133, "height": 152,
                      "data": {"name": "tension"},
                      "transform": [{"filter": "datum.panel == 'EdlF'"}],
                      "encoding": {
                        "x": {"field": "v", "type": "quantitative", "scale": {"domain": [0, 4], "nice": false}, "axis": {"values": [0, 1, 2, 3, 4], "title": "Voltage (V)", "titleFontSize": 12, "labelFontSize": 7.5, "tickSize": 3, "titlePadding": 1, "labelPadding": 1}}
                      },
                      "layer": [
                        {"mark": {"type": "line", "strokeWidth": 1.5},
                          "encoding": {
                            "y": {"field": "mean", "type": "quantitative", "scale": {"domain": [0, 100], "nice": false}, "axis": {"values": [0, 25, 50, 75, 100], "title": "Tension %", "titleFontSize": 10, "labelFontSize": 7.5, "tickSize": 3, "titlePadding": -3, "labelPadding": 1}},
                            "stroke": {"field": "group", "type": "nominal", "scale": {"domain": ["mAAV8-JZif1", "mdx", "mAAV8-EGFP"], "range": ["#ff1a1a", "black", "#a6a6a6"]}, "legend": null}}},
                        {"mark": {"type": "errorbar", "ticks": true},
                          "encoding": {"y": {"field": "lo", "type": "quantitative", "title": "Tension %"}, "y2": {"field": "hi"},
                            "color": {"field": "group", "type": "nominal", "scale": {"domain": ["mAAV8-EGFP", "mAAV8-JZif1", "mdx"], "range": ["#a6a6a6", "#ff1a1a", "black"]}, "legend": null}}},
                        {"mark": {"type": "point", "filled": true, "size": 45, "opacity": 1},
                          "encoding": {
                            "y": {"field": "mean", "type": "quantitative"},
                            "shape": {"field": "group", "type": "nominal", "scale": {"domain": ["mdx", "mAAV8-JZif1", "mAAV8-EGFP"], "range": ["circle", "circle", "diamond"]}, "legend": null},
                            "fill": {"field": "group", "type": "nominal", "scale": {"domain": ["mdx", "mAAV8-EGFP", "mAAV8-JZif1"], "range": ["black", "#a6a6a6", "#ff1a1a"]},
                              "legend": {"orient": "none", "legendX": 66, "legendY": 56, "title": null, "labelFontSize": 7.5, "symbolSize": 40, "labelOffset": 11, "rowPadding": 9,
                                "labelExpr": "datum.label + '  (n=10)'",
                                "encoding": {"symbols": {
                                  "shape": {"condition": {"test": "datum.value == 'mAAV8-EGFP'", "value": "M-2.6,0L-0.9,0M0.9,0L2.6,0M-0.9,0L0,-0.9L0.9,0L0,0.9Z"}, "value": "M-2.6,0L-1,0M1,0L2.6,0M-1,0A1,1,0,1,0,1,0A1,1,0,1,0,-1,0Z"},
                                  "stroke": {"condition": [{"test": "datum.value == 'mdx'", "value": "black"}, {"test": "datum.value == 'mAAV8-JZif1'", "value": "#ff1a1a"}], "value": "#a6a6a6"},
                                  "strokeWidth": {"value": 1.3}}}}}}},
                        {"transform": [{"filter": "datum.sig"}],
                          "mark": {"type": "text", "baseline": "bottom", "dy": -5, "fontSize": 9.5, "font": "Liberation Serif", "color": "black"},
                          "encoding": {"y": {"field": "hi", "type": "quantitative"}, "text": {"field": "sig"}}}
                      ]
                    },
                    {
                      "title": {"text": "Males", "anchor": "start", "fontSize": 13, "fontWeight": "normal", "offset": 2, "dx": 15},
                      "width": 134, "height": 152,
                      "data": {"name": "tension"},
                      "transform": [{"filter": "datum.panel == 'EdlM'"}],
                      "encoding": {
                        "x": {"field": "v", "type": "quantitative", "scale": {"domain": [0, 3], "nice": false}, "axis": {"values": [0, 1, 2, 3], "title": "Voltage (V)", "titleFontSize": 12, "labelFontSize": 7.5, "tickSize": 3, "titlePadding": 1, "labelPadding": 1}}
                      },
                      "layer": [
                        {"mark": {"type": "line", "strokeWidth": 1.5},
                          "encoding": {
                            "y": {"field": "mean", "type": "quantitative", "scale": {"domain": [0, 100], "nice": false}, "axis": {"values": [0, 25, 50, 75, 100], "title": "Tension %", "titleFontSize": 10, "labelFontSize": 7.5, "tickSize": 3, "titlePadding": -3, "labelPadding": 1}},
                            "stroke": {"field": "group", "type": "nominal", "scale": {"domain": ["mAAV8-JZif1", "mdx", "mAAV8-EGFP"], "range": ["#ff1a1a", "black", "#8c8c8c"]}, "legend": null}}},
                        {"mark": {"type": "errorbar", "ticks": true},
                          "encoding": {"y": {"field": "lo", "type": "quantitative", "title": "Tension %"}, "y2": {"field": "hi"},
                            "color": {"field": "group", "type": "nominal", "scale": {"domain": ["mAAV8-EGFP", "mAAV8-JZif1", "mdx"], "range": ["#8c8c8c", "#ff1a1a", "black"]}, "legend": null}}},
                        {"mark": {"type": "point", "filled": true, "size": 45, "opacity": 1},
                          "encoding": {
                            "y": {"field": "mean", "type": "quantitative"},
                            "shape": {"field": "group", "type": "nominal", "scale": {"domain": ["mdx", "mAAV8-JZif1", "mAAV8-EGFP"], "range": ["diamond", "circle", "circle"]}, "legend": null},
                            "fill": {"field": "group", "type": "nominal", "scale": {"domain": ["mdx", "mAAV8-EGFP", "mAAV8-JZif1"], "range": ["black", "#8c8c8c", "#ff1a1a"]},
                              "legend": {"orient": "none", "legendX": 66, "legendY": 78, "title": null, "labelFontSize": 7.5, "symbolSize": 40, "labelOffset": 11, "rowPadding": 2,
                                "labelExpr": "datum.label + (datum.label == 'mAAV8-EGFP' ? '  (n=8)' : '  (n=10)')",
                                "encoding": {"symbols": {
                                  "shape": {"condition": {"test": "datum.value == 'mdx'", "value": "M-2.6,0L-0.9,0M0.9,0L2.6,0M-0.9,0L0,-0.9L0.9,0L0,0.9Z"}, "value": "M-2.6,0L-1,0M1,0L2.6,0M-1,0A1,1,0,1,0,1,0A1,1,0,1,0,-1,0Z"},
                                  "stroke": {"condition": [{"test": "datum.value == 'mdx'", "value": "black"}, {"test": "datum.value == 'mAAV8-JZif1'", "value": "#ff1a1a"}], "value": "#8c8c8c"},
                                  "strokeWidth": {"value": 1.3}}}}}}},
                        {"transform": [{"filter": "datum.sig"}],
                          "mark": {"type": "text", "baseline": "bottom", "dy": -5, "fontSize": 9.5, "font": "Liberation Serif", "color": "black"},
                          "encoding": {"y": {"field": "hi", "type": "quantitative"}, "text": {"field": "sig"}}}
                      ]
                    }
                  ]
                }
              ]
            }
          ]
        }
      ]
    }
  ]
}
